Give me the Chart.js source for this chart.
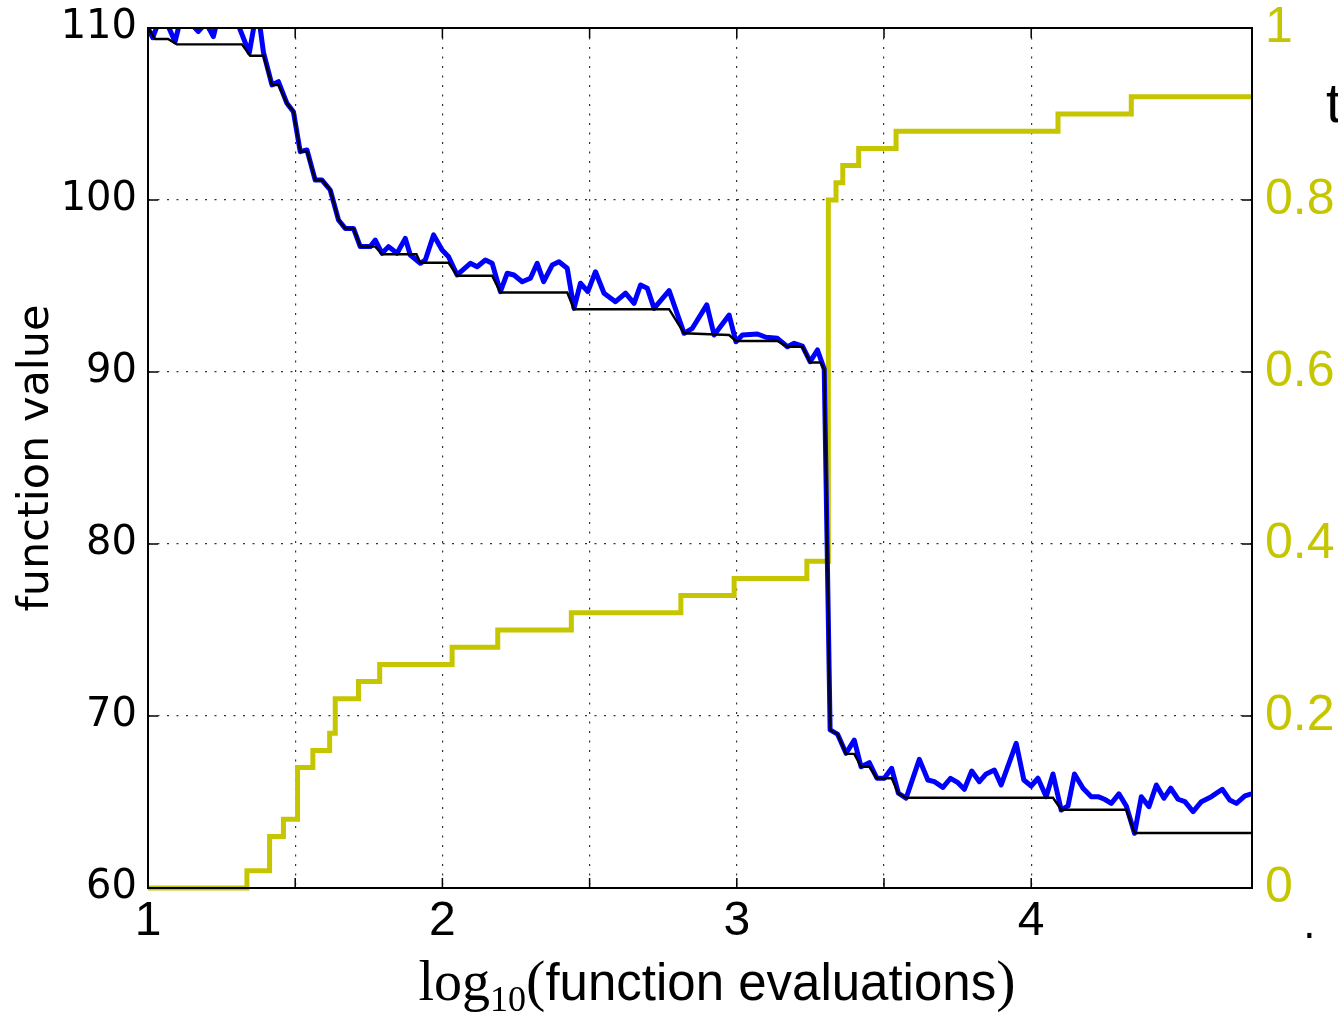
<!DOCTYPE html>
<html>
<head>
<meta charset="utf-8">
<script src="https://cdn.jsdelivr.net/npm/chart.js@4"></script>
<style>
  html, body { margin: 0; padding: 0; background: #fff; }
  canvas { display: block; }
</style>
</head>
<body>
<canvas id="chart" width="1338" height="1014"></canvas>
<script>
// current function value, sampled along log10(evaluations)
const evalLog = [1.0, 1.016, 1.035, 1.061, 1.092, 1.109, 1.143, 1.171, 1.197, 1.222,
  1.235, 1.272, 1.306, 1.344, 1.364, 1.378, 1.392, 1.421, 1.443, 1.472,
  1.494, 1.517, 1.540, 1.568, 1.591, 1.619, 1.647, 1.670, 1.698, 1.721,
  1.755, 1.772, 1.795, 1.817, 1.846, 1.874, 1.891, 1.925, 1.942, 1.970,
  1.999, 2.021, 2.050, 2.095, 2.118, 2.146, 2.169, 2.197, 2.220, 2.243,
  2.271, 2.299, 2.322, 2.344, 2.373, 2.396, 2.424, 2.447, 2.469, 2.494,
  2.520, 2.549, 2.588, 2.622, 2.651, 2.673, 2.696, 2.719, 2.770, 2.821,
  2.849, 2.898, 2.923, 2.974, 2.997, 3.019, 3.070, 3.099, 3.138, 3.172,
  3.195, 3.223, 3.249, 3.274, 3.297, 3.317, 3.342, 3.371, 3.399,
  3.422, 3.450, 3.476, 3.501, 3.526, 3.549, 3.575, 3.620, 3.649, 3.671,
  3.700, 3.726, 3.751, 3.773, 3.798, 3.824, 3.847, 3.875, 3.898, 3.949,
  3.975, 4.000, 4.023, 4.051, 4.074, 4.102, 4.125, 4.147, 4.176, 4.204,
  4.227, 4.249, 4.272, 4.298, 4.323, 4.351, 4.374, 4.400, 4.425, 4.451,
  4.474, 4.499, 4.522, 4.550, 4.578, 4.612, 4.649, 4.674, 4.697, 4.726,
  4.748];
const fValue = [110.0, 109.44, 110.3, 110.4, 109.2, 110.4, 110.3, 109.8, 110.3, 109.5,
  110.4, 110.5, 110.2, 108.55, 110.5, 110.4, 108.6, 106.69, 106.88, 105.62,
  105.13, 102.81, 102.91, 101.16, 101.16, 100.58, 98.84, 98.35, 98.35, 97.29,
  97.29, 97.67, 96.90, 97.29, 96.90, 97.77, 96.80, 96.32, 96.51, 97.97,
  97.09, 96.70, 95.64, 96.32, 96.12, 96.51, 96.32, 94.67, 95.74, 95.64,
  95.25, 95.45, 96.32, 95.25, 96.22, 96.41, 96.03, 93.70, 95.16, 94.67,
  95.83, 94.58, 94.09, 94.58, 93.99, 95.06, 94.87, 93.70, 94.73, 92.25,
  92.54, 93.90, 92.15, 93.31, 91.76, 92.15, 92.21, 92.02, 91.96, 91.47,
  91.67, 91.51, 90.60, 91.28, 90.17, 69.19, 68.95, 67.83, 68.60,
  67.05, 67.29, 66.38, 66.38, 66.96, 65.51, 65.22, 67.48, 66.28, 66.18,
  65.85, 66.38, 66.12, 65.74, 66.80, 66.18, 66.63, 66.86, 65.99, 68.41,
  66.28, 65.93, 66.38, 65.31, 66.63, 64.53, 64.77, 66.63, 65.80, 65.31,
  65.31, 65.16, 64.92, 65.47, 64.77, 63.18, 65.31, 64.73, 65.99, 65.22,
  65.80, 65.16, 65.02, 64.44, 65.02, 65.31, 65.74, 65.12, 64.92, 65.35,
  65.47];

// best value found so far
const bestLog = [1.0, 1.024, 1.068, 1.098, 1.319, 1.347, 1.392, 1.421, 1.443, 1.472,
  1.494, 1.517, 1.540, 1.568, 1.591, 1.619, 1.647, 1.670, 1.698, 1.721,
  1.772, 1.795, 1.912, 1.925, 2.021, 2.050, 2.169, 2.197, 2.424, 2.447,
  2.770, 2.821, 2.974, 2.997, 3.138, 3.172, 3.223, 3.249, 3.285, 3.297,
  3.317, 3.342, 3.371, 3.399, 3.422, 3.450, 3.476, 3.526, 3.549, 3.575,
  4.074, 4.102, 4.323, 4.351, 4.75];
const bestValue = [110.0, 109.36, 109.36, 109.05, 109.05, 108.39, 108.39, 106.69, 106.69, 105.62,
  105.13, 102.81, 102.81, 101.16, 101.16, 100.58, 98.84, 98.35, 98.35, 97.29,
  97.29, 96.85, 96.85, 96.35, 96.35, 95.6, 95.6, 94.62, 94.62, 93.65,
  93.65, 92.25, 92.15, 91.8, 91.8, 91.47, 91.47, 90.55, 90.55, 90.12,
  69.19, 68.95, 67.8, 67.8, 67.05, 67.05, 66.38, 66.38, 65.5, 65.25,
  65.25, 64.55, 64.55, 63.2, 63.2];

// fraction on the right axis (step line)
const fracLog = [1.0, 1.336, 1.413, 1.460, 1.508, 1.560, 1.617, 1.636, 1.715, 1.787,
  2.033, 2.188, 2.438, 2.810, 2.991, 3.238, 3.311, 3.337, 3.360, 3.414,
  3.541, 4.091, 4.340, 4.75];
const fracValue = [0, 0.02, 0.06, 0.08, 0.14, 0.16, 0.18, 0.22, 0.24, 0.26,
  0.28, 0.30, 0.32, 0.34, 0.36, 0.38, 0.80, 0.82, 0.84, 0.86,
  0.88, 0.90, 0.92, 0.92];

const xRange = [1, 4.75];
const leftRange = [60, 110];
const rightRange = [0, 1];

const yellow = '#c6c600';
const gridDash = [2, 7.5];

const toPoints = (xs, ys) => xs.map((x, i) => ({ x: x, y: ys[i] }));

// fixed box sizes so the plot area sits where the original one does
const fixWidth = w => s => { s.width = w; s.paddingTop = 0; s.paddingBottom = 0; };
const fixHeight = h => s => { s.height = h; s.paddingLeft = 0; s.paddingRight = 0; };

// frame, inward tick marks and the axis titles
const framePlugin = {
  id: 'framePlugin',
  afterDatasetsDraw(chart) {
    const { ctx, chartArea: a, scales } = chart;
    ctx.save();
    ctx.strokeStyle = '#000';
    ctx.lineWidth = 1.5;
    ctx.beginPath();
    scales.y.ticks.forEach(t => {
      const py = scales.y.getPixelForValue(t.value);
      ctx.moveTo(a.left, py); ctx.lineTo(a.left + 10, py);
    });
    scales.y2.ticks.forEach(t => {
      const py = scales.y2.getPixelForValue(t.value);
      ctx.moveTo(a.right, py); ctx.lineTo(a.right - 10, py);
    });
    scales.x.ticks.forEach(t => {
      const px = scales.x.getPixelForValue(t.value);
      ctx.moveTo(px, a.bottom); ctx.lineTo(px, a.bottom - 10);
      ctx.moveTo(px, a.top); ctx.lineTo(px, a.top + 10);
    });
    ctx.stroke();
    ctx.lineWidth = 2;
    ctx.strokeRect(a.left, a.top, a.right - a.left, a.bottom - a.top);
    ctx.restore();
  },
  afterDraw(chart) {
    const ctx = chart.ctx;
    ctx.save();
    ctx.fillStyle = '#000';

    // y title
    ctx.save();
    ctx.translate(48, 458);
    ctx.rotate(-Math.PI / 2);
    ctx.font = '43px "DejaVu Sans"';
    ctx.textAlign = 'center';
    ctx.textBaseline = 'alphabetic';
    ctx.fillText('function value', 0, 0);
    ctx.restore();

    // x title: log_10(function evaluations)
    const parts = [
      { t: 'log', f: '56px "Liberation Serif", serif', dy: 0 },
      { t: '10', f: '36px "Liberation Serif", serif', dy: 11 },
      { t: '(', f: '58px "Liberation Serif", serif', dy: 0 },
      { t: 'function evaluations', f: '51px "Liberation Sans", sans-serif', dy: 0 },
      { t: ')', f: '58px "Liberation Serif", serif', dy: 0 }
    ];
    let total = 0;
    parts.forEach(p => { ctx.font = p.f; p.w = ctx.measureText(p.t).width; total += p.w; });
    let x = 717 - total / 2;
    ctx.textAlign = 'left';
    ctx.textBaseline = 'alphabetic';
    parts.forEach(p => { ctx.font = p.f; ctx.fillText(p.t, x, 1000 + p.dy); x += p.w; });

    // pieces of text cut at the edge of the original figure
    ctx.font = '56px "Liberation Sans", sans-serif';
    ctx.fillText('t', 1326, 122);
    ctx.font = '40px "DejaVu Sans"';
    ctx.fillText('.', 1303, 938);
    ctx.restore();
  }
};

new Chart(document.getElementById('chart'), {
  type: 'line',
  data: {
    datasets: [
      {
        label: 'best so far',
        data: toPoints(bestLog, bestValue),
        yAxisID: 'y',
        borderColor: '#000',
        borderWidth: 2.4,
        pointRadius: 0,
        clip: 0,
        order: 0
      },
      {
        label: 'function value',
        data: toPoints(evalLog, fValue),
        yAxisID: 'y',
        borderColor: '#0000ff',
        borderWidth: 5,
        borderJoinStyle: 'round',
        pointRadius: 0,
        clip: 0,
        order: 1
      },
      {
        label: 'fraction',
        data: toPoints(fracLog, fracValue),
        yAxisID: 'y2',
        borderColor: yellow,
        borderWidth: 5,
        stepped: true,
        pointRadius: 0,
        clip: 4,
        order: 2
      }
    ]
  },
  options: {
    responsive: false,
    animation: false,
    layout: { padding: { top: 28, left: 0, right: 0, bottom: 0 } },
    plugins: {
      legend: { display: false },
      tooltip: { enabled: false }
    },
    scales: {
      x: {
        type: 'linear',
        min: xRange[0],
        max: xRange[1],
        ticks: {
          stepSize: 0.5,
          autoSkip: false,
          maxRotation: 0,
          padding: 10,
          color: '#000',
          font: { family: '"Liberation Sans", sans-serif', size: 48, lineHeight: 1 },
          callback: v => (Number.isInteger(v) ? String(v) : '')
        },
        grid: { color: 'rgba(0,0,0,0.8)', lineWidth: 1.2, drawTicks: false },
        border: { display: false, dash: gridDash },
        afterFit: fixHeight(126)
      },
      y: {
        position: 'left',
        min: leftRange[0],
        max: leftRange[1],
        ticks: {
          stepSize: 10,
          padding: 11,
          color: '#000',
          font: { family: '"DejaVu Sans", sans-serif', size: 40, lineHeight: 1 }
        },
        grid: { color: 'rgba(0,0,0,0.8)', lineWidth: 1.2, drawTicks: false },
        border: { display: false, dash: gridDash },
        afterFit: fixWidth(148)
      },
      y2: {
        position: 'right',
        min: rightRange[0],
        max: rightRange[1],
        ticks: {
          stepSize: 0.2,
          padding: 13,
          color: yellow,
          font: { family: '"Liberation Sans", sans-serif', size: 50, lineHeight: 1 },
          callback: v => String(+v.toFixed(1))
        },
        grid: { display: false, drawTicks: false },
        border: { display: false },
        afterFit: fixWidth(86)
      }
    }
  },
  plugins: [framePlugin]
});
</script>
</body>
</html>
